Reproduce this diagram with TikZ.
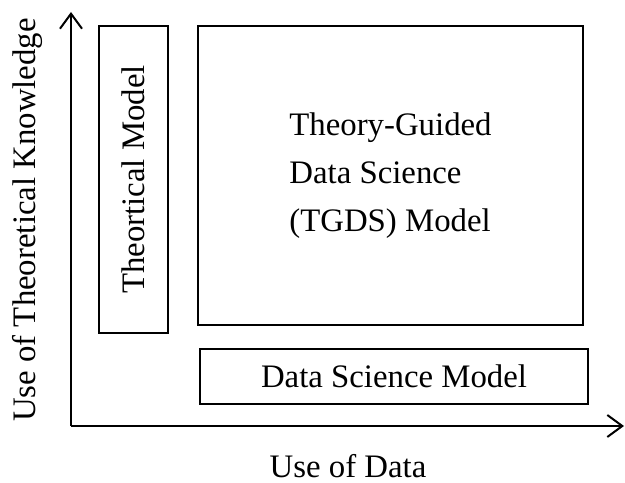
\documentclass[tikz,border=0pt]{standalone}
\usepackage{fontspec}
\setmainfont{Liberation Serif}
\usetikzlibrary{arrows.meta,positioning}

\begin{document}
\begin{tikzpicture}[x=0.5pt,y=0.5pt,
    modelbox/.style={draw,line width=1pt,inner sep=0pt},
    lbl/.style={font=\fontsize{16.4}{24}\selectfont},
    axis/.style={line width=1pt,-{Straight Barb[length=7.5pt,width=11pt,line width=1pt]}}]
  \useasboundingbox (0,0) rectangle (625,482);
  % axes
  \coordinate (origin) at (71,56);
  \coordinate (ytop) at (71,470);
  \coordinate (xend) at (624,56);
  \draw[axis] (origin) -- (ytop);
  \draw[axis] (origin) -- (xend);
  \node[lbl,anchor=base,inner sep=0pt,text depth=0pt] (xlabel) at (348,5) {Use of Data};
  \node[lbl,rotate=90] (ylabel) at (27,262) {Use of Theoretical Knowledge};
  % the three kinds of model
  \node[modelbox,lbl,rotate=90,minimum width=153.5pt,minimum height=34.5pt]
       (theory) at (133.5,302.5) {Theortical Model};
  \node[modelbox,lbl,align=left,minimum width=192.5pt,minimum height=149.5pt]
       (tgds) at (390.5,306.5) {Theory-Guided\\Data Science\\(TGDS) Model};
  \node[modelbox,lbl,minimum width=194pt,minimum height=27.5pt]
       (dsm) at (394,105.5) {Data Science Model};
\end{tikzpicture}
\end{document}
